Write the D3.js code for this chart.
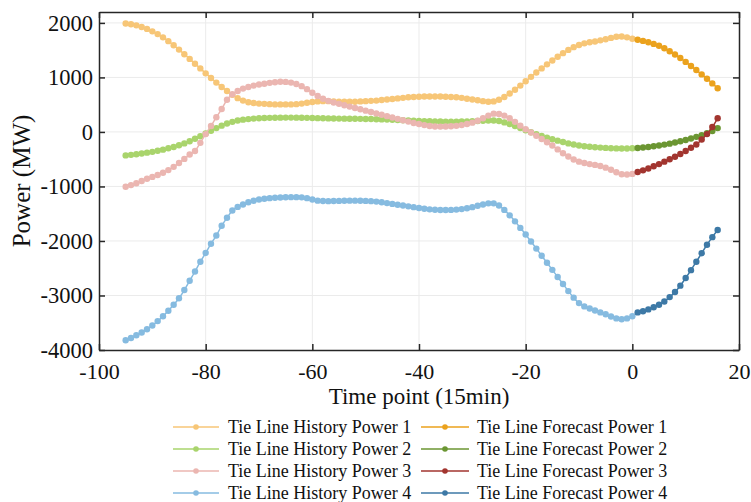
<!DOCTYPE html>
<html><head><meta charset="utf-8">
<script src="https://cdn.jsdelivr.net/npm/d3@7"></script>
<style>html,body{margin:0;padding:0;background:#fff}svg{display:block}</style>
</head><body>
<div id="chart"></div>
<script>
const historyTimes = d3.range(-95, 1);
const forecastTimes = d3.range(1, 17);
const xTicks = [-100, -80, -60, -40, -20, 0, 20];
const yTicks = [-4000, -3000, -2000, -1000, 0, 1000, 2000];

const history1 = [1990,1975,1955,1925,1890,1845,1795,1735,1665,1590,1510,1425,1340,1250,1165,1075,990,905,825,750,680,620,575,545,530,520,515,510,505,505,505,505,510,520,535,550,560,565,565,560,555,555,555,555,560,565,570,575,585,595,605,615,625,635,640,645,650,650,650,650,645,640,635,625,610,595,580,565,555,560,590,640,705,775,850,930,1010,1090,1165,1240,1310,1380,1445,1505,1555,1595,1625,1645,1660,1680,1700,1725,1745,1750,1735,1710];
const forecast1 = [1690,1670,1645,1615,1580,1535,1480,1420,1355,1285,1210,1135,1055,975,890,800];

const history2 = [-430,-420,-410,-395,-380,-365,-345,-325,-300,-275,-245,-210,-170,-125,-80,-30,20,70,115,155,185,210,225,235,245,250,255,258,260,262,263,263,262,260,258,255,253,250,248,246,245,244,243,242,240,238,236,233,230,226,222,218,214,210,206,202,199,196,193,191,190,190,190,191,193,196,200,205,210,210,200,175,145,110,70,30,-5,-40,-75,-105,-135,-160,-185,-210,-230,-250,-262,-272,-280,-287,-293,-298,-302,-305,-303,-298];
const forecast2 = [-295,-285,-275,-262,-248,-232,-215,-195,-172,-147,-120,-90,-58,-25,15,70];

const history3 = [-1005,-975,-940,-900,-860,-825,-790,-750,-700,-640,-570,-495,-415,-350,-200,-40,110,270,420,590,690,750,795,825,850,870,885,900,912,920,918,905,880,840,785,720,660,610,570,540,515,490,465,440,415,390,365,340,315,290,265,240,215,190,165,145,125,110,100,98,100,105,112,125,145,170,205,250,300,335,330,300,250,185,115,50,-10,-70,-130,-190,-250,-320,-390,-450,-505,-545,-570,-590,-605,-625,-655,-695,-740,-775,-780,-770];
const forecast3 = [-735,-705,-670,-630,-590,-545,-500,-455,-405,-350,-290,-230,-140,-40,90,250];

const history4 = [-3820,-3780,-3730,-3680,-3620,-3550,-3470,-3380,-3280,-3170,-3050,-2900,-2730,-2560,-2380,-2220,-2050,-1900,-1720,-1575,-1440,-1375,-1330,-1290,-1262,-1240,-1225,-1215,-1208,-1202,-1198,-1196,-1196,-1200,-1215,-1240,-1260,-1268,-1270,-1268,-1265,-1262,-1260,-1260,-1262,-1265,-1270,-1278,-1290,-1305,-1320,-1335,-1350,-1365,-1380,-1395,-1410,-1420,-1428,-1432,-1433,-1430,-1425,-1415,-1400,-1380,-1355,-1330,-1310,-1310,-1350,-1430,-1530,-1640,-1760,-1880,-2010,-2140,-2270,-2400,-2530,-2660,-2790,-2920,-3040,-3140,-3200,-3240,-3275,-3310,-3345,-3385,-3420,-3435,-3420,-3380];
const forecast4 = [-3310,-3290,-3255,-3215,-3170,-3110,-3030,-2935,-2820,-2680,-2535,-2380,-2225,-2070,-1930,-1800];

const seriesNames = ["Tie Line History Power 1","Tie Line History Power 2","Tie Line History Power 3","Tie Line History Power 4",
                     "Tie Line Forecast Power 1","Tie Line Forecast Power 2","Tie Line Forecast Power 3","Tie Line Forecast Power 4"];
const seriesColors = ["#f7c677","#a9d46c","#ebb6b1","#86bbe0","#eba21d","#6b9632","#a2352f","#3d79a6"];

const W = 751, H = 502;
const m = {left: 99, right: 12, top: 12, bottom: 152};
const svg = d3.select("#chart").append("svg").attr("width", W).attr("height", H);
const x = d3.scaleLinear().domain([-100, 20]).range([m.left, W - m.right]);
const y = d3.scaleLinear().domain([-4000, 2200]).range([H - m.bottom, m.top]);
const font = "'Liberation Serif','Times New Roman',serif";
const fmt = d => String(d);

// grid
svg.append("g").selectAll("line").data(xTicks.slice(1, -1)).join("line")
  .attr("x1", d => x(d)).attr("x2", d => x(d)).attr("y1", y.range()[1]).attr("y2", y.range()[0])
  .attr("stroke", "#ebebeb").attr("stroke-width", 1);
svg.append("g").selectAll("line").data(yTicks.slice(1)).join("line")
  .attr("y1", d => y(d)).attr("y2", d => y(d)).attr("x1", x.range()[0]).attr("x2", x.range()[1])
  .attr("stroke", "#ebebeb").attr("stroke-width", 1);

// series
const all = [
  {t: historyTimes, v: history1}, {t: historyTimes, v: history2}, {t: historyTimes, v: history3}, {t: historyTimes, v: history4},
  {t: forecastTimes, v: forecast1}, {t: forecastTimes, v: forecast2}, {t: forecastTimes, v: forecast3}, {t: forecastTimes, v: forecast4}
];
const line = d3.line().x(d => x(d[0])).y(d => y(d[1])).curve(d3.curveMonotoneX);
all.forEach((s, i) => {
  const pts = s.t.map((t, k) => [t, s.v[k]]);
  const g = svg.append("g");
  g.append("path").datum(pts).attr("d", line).attr("fill", "none")
    .attr("stroke", seriesColors[i]).attr("stroke-width", 1.5);
  g.selectAll("circle").data(pts).join("circle")
    .attr("cx", d => x(d[0])).attr("cy", d => y(d[1])).attr("r", 3.2)
    .attr("fill", seriesColors[i]);
});

// axes (box with inward ticks)
const axisColor = "#262626";
const xb = d3.axisBottom(x).tickValues(xTicks).tickSizeInner(-6).tickSizeOuter(0).tickPadding(13).tickFormat(fmt);
const yl = d3.axisLeft(y).tickValues(yTicks).tickSizeInner(-6).tickSizeOuter(0).tickPadding(6).tickFormat(fmt);
const gx = svg.append("g").attr("transform", `translate(0,${y(-4000)})`).call(xb);
const gy = svg.append("g").attr("transform", `translate(${x(-100)},0)`).call(yl);
const xt = svg.append("g").attr("transform", `translate(0,${y(2200)})`).call(d3.axisTop(x).tickValues(xTicks).tickSizeInner(-6).tickSizeOuter(0).tickFormat(""));
const yr = svg.append("g").attr("transform", `translate(${x(20)},0)`).call(d3.axisRight(y).tickValues(yTicks).tickSizeInner(-6).tickSizeOuter(0).tickFormat(""));
[gx, gy, xt, yr].forEach(g => {
  g.select(".domain").attr("stroke", axisColor).attr("stroke-width", 1.5);
  g.selectAll(".tick line").attr("stroke", axisColor).attr("stroke-width", 1.5);
  g.selectAll("text").attr("font-family", font).attr("font-size", 22).attr("fill", "#111");
});
gy.selectAll("text").attr("font-size", 22.5);

// titles
svg.append("text").attr("x", (x(-100) + x(20)) / 2).attr("y", 404).attr("text-anchor", "middle")
  .attr("font-family", font).attr("font-size", 23).attr("fill", "#111").text("Time point (15min)");
svg.append("text").attr("transform", `translate(30,${(y(-4000) + y(2200)) / 2}) rotate(-90)`)
  .attr("text-anchor", "middle").attr("font-family", font).attr("font-size", 25).attr("fill", "#111").text("Power (MW)");

// legend
const legRows = [427, 449, 471, 493];
const legCols = [{x1: 173, x2: 219, tx: 228}, {x1: 421, x2: 469, tx: 477}];
seriesNames.forEach((name, i) => {
  const col = legCols[Math.floor(i / 4)];
  const yy = legRows[i % 4];
  const g = svg.append("g");
  g.append("line").attr("x1", col.x1).attr("x2", col.x2).attr("y1", yy).attr("y2", yy)
    .attr("stroke", seriesColors[i]).attr("stroke-width", 1.5);
  g.append("circle").attr("cx", (col.x1 + col.x2) / 2).attr("cy", yy).attr("r", 2.8).attr("fill", seriesColors[i]);
  g.append("text").attr("x", col.tx).attr("y", yy + 5.5).attr("font-family", font).attr("font-size", 18)
    .attr("fill", "#111").text(name);
});
</script>
</body></html>
